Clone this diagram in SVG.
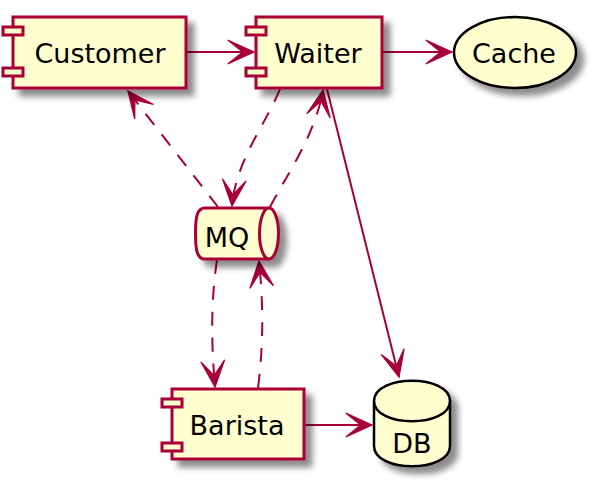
<svg xmlns="http://www.w3.org/2000/svg" width="597" height="492" viewBox="0 0 597 492">
<defs>
<filter id="sh" x="-20%" y="-20%" width="150%" height="160%">
<feGaussianBlur in="SourceAlpha" stdDeviation="3"/>
<feOffset dx="7" dy="7" result="o"/>
<feComponentTransfer in="o" result="s"><feFuncA type="linear" slope="0.45"/></feComponentTransfer>
<feMerge><feMergeNode in="s"/><feMergeNode in="SourceGraphic"/></feMerge>
</filter>
<marker id="ah" markerUnits="userSpaceOnUse" markerWidth="30" markerHeight="30" viewBox="-22 -11 24 22" refX="0" refY="0" orient="auto">
<path d="M0,0 L-21,-9.5 L-9,0 L-21,9.5 Z" fill="#A80036" stroke="#A80036" stroke-width="1"/>
</marker>
</defs>
<style>
.box{fill:#FEFECE;stroke:#A80036;stroke-width:3}
.dark{fill:#FEFECE;stroke:#000;stroke-width:2.5}
.lbl{font-family:"DejaVu Sans","Liberation Sans",sans-serif;font-size:27px;fill:#000;text-anchor:middle}
.c{fill:none;stroke:#A80036;stroke-width:2;marker-end:url(#ah)}
.d{stroke-dasharray:14,12}
</style>
<g id="connectors">
<path class="c" d="M187,52 L254,52"/>
<path class="c" d="M383,52 L452,52"/>
<path class="c d" d="M218,207 L128,91"/>
<path class="c d" d="M280,89 C266,124 236,160 232,206"/>
<path class="c d" d="M270,207 C286,176 315,136 323,90"/>
<path class="c" d="M327,89 L399,377"/>
<path class="c d" d="M217,260 C211,300 211,340 215,387"/>
<path class="c d" d="M258,388 C264,340 263,300 259,261"/>
<path class="c" d="M305,425 L372,425"/>
</g>
<g id="Customer">
<rect class="box" x="13" y="17" width="173" height="71" filter="url(#sh)"/>
<rect class="box" x="3" y="27" width="20" height="8"/>
<rect class="box" x="3" y="68" width="20" height="8"/>
<text class="lbl" x="100" y="63">Customer</text>
</g>
<g id="Waiter">
<rect class="box" x="256" y="17" width="126" height="71" filter="url(#sh)"/>
<rect class="box" x="246" y="27" width="20" height="8"/>
<rect class="box" x="246" y="68" width="20" height="8"/>
<text class="lbl" x="318" y="63">Waiter</text>
</g>
<g id="Cache">
<ellipse class="dark" cx="515" cy="52.5" rx="61" ry="35.5" filter="url(#sh)"/>
<text class="lbl" x="514" y="63">Cache</text>
</g>
<g id="MQ">
<path class="box" d="M205,208 L269,208 A9.5,25.5 0 0 1 269,259 L205,259 C197,259 195.5,250 195.5,233.5 C195.5,217 197,208 205,208 Z" filter="url(#sh)"/>
<path class="box" d="M269,208 A9.5,25.5 0 0 0 269,259" fill="none"/>
<text class="lbl" x="227" y="247">MQ</text>
</g>
<g id="Barista">
<rect class="box" x="172" y="389" width="132" height="70" filter="url(#sh)"/>
<rect class="box" x="162" y="399" width="20" height="8"/>
<rect class="box" x="162" y="443" width="20" height="8"/>
<text class="lbl" x="237" y="435">Barista</text>
</g>
<g id="DB">
<path class="dark" d="M374,401 C374,374 450,374 450,401 L450,446 C450,473 374,473 374,446 Z" filter="url(#sh)"/>
<path class="dark" d="M374,401 C374,428 450,428 450,401" fill="none"/>
<text class="lbl" x="412" y="453">DB</text>
</g>
</svg>
